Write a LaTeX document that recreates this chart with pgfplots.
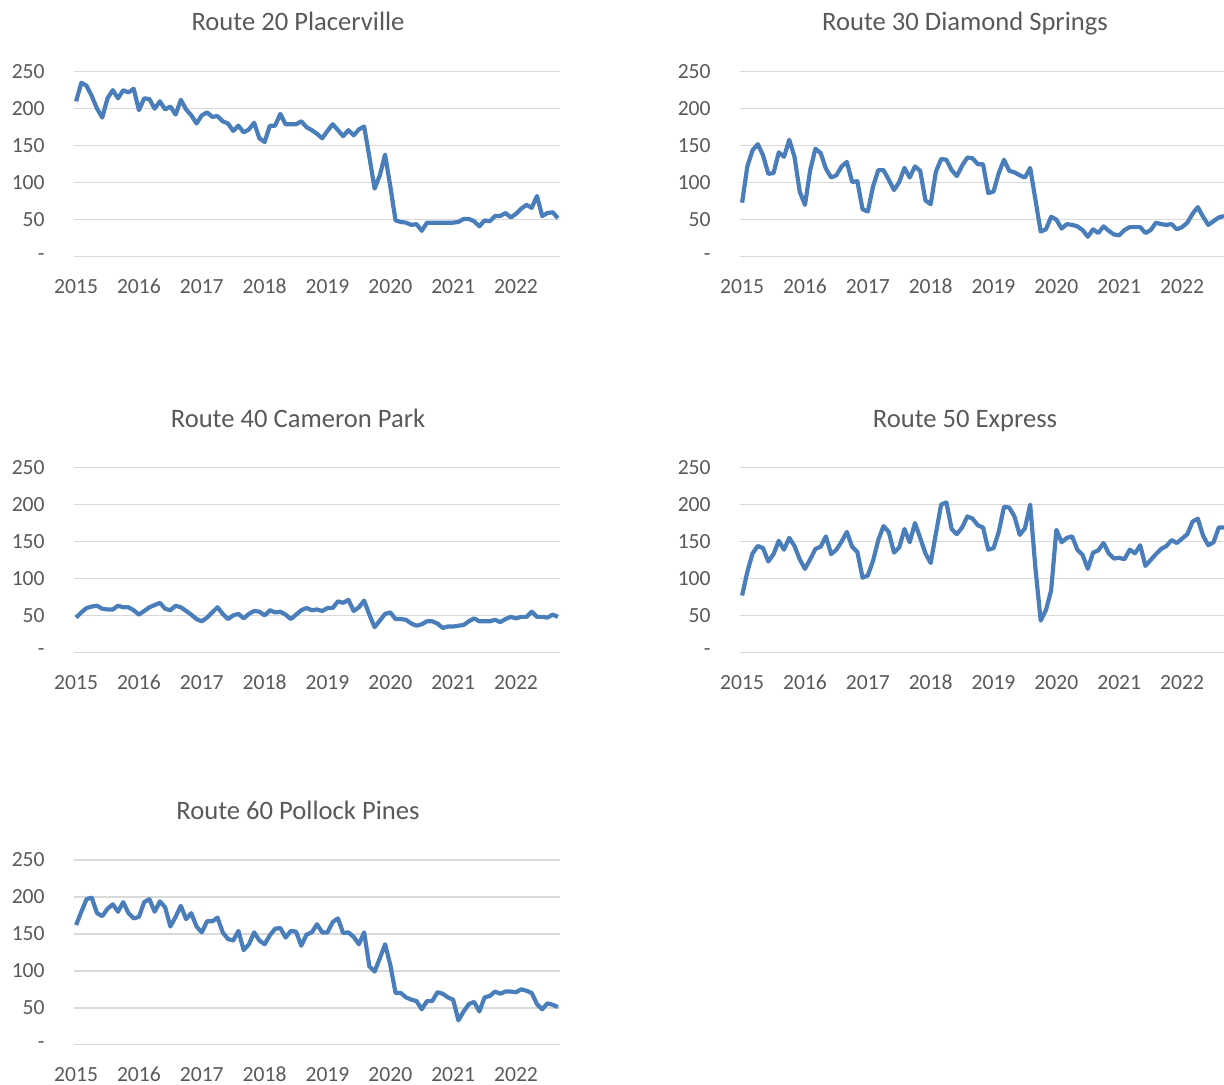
\documentclass[border=0pt]{standalone}
\usepackage{fontspec}
\setmainfont{Carlito}
\usepackage{pgfplots}
\usepackage{pgfplotstable}
\pgfplotsset{compat=1.18}
\definecolor{linec}{HTML}{4A7EBB}
\definecolor{gridc}{HTML}{D9D9D9}
\definecolor{txt}{HTML}{595959}

\pgfplotstableread{
m r20 r30 r40 r50 r60
0 210 73 47 77 162
1 235 122 54 109 180
2 231 144 60 134 197
3 217 152 62 144 199
4 200 137 63 141 178
5 188 112 59 123 174
6 214 113 58 133 184
7 225 141 58 151 190
8 214 135 63 139 180
9 225 158 61 155 193
10 222 135 61 144 178
11 227 88 57 126 171
12 198 70 51 113 173
13 214 117 56 126 193
14 213 146 61 140 197
15 200 140 64 143 180
16 210 119 67 157 194
17 199 107 59 133 186
18 203 110 57 139 160
19 192 122 63 150 173
20 212 128 61 163 188
21 199 101 56 143 170
22 191 102 51 136 178
23 180 64 45 101 160
24 191 61 42 104 152
25 195 95 47 124 167
26 189 117 54 152 167
27 190 117 61 171 172
28 183 104 52 163 152
29 180 90 45 135 143
30 170 101 50 142 141
31 177 120 52 167 154
32 168 107 46 149 128
33 172 122 52 175 136
34 181 116 56 155 152
35 160 76 55 134 141
36 155 71 50 121 136
37 177 115 57 161 148
38 177 132 54 200 157
39 193 131 55 203 158
40 179 117 51 167 145
41 179 109 45 160 154
42 179 123 51 169 153
43 183 134 57 184 134
44 175 133 60 181 149
45 171 125 57 172 152
46 166 125 58 169 163
47 160 86 56 139 152
48 170 88 60 141 152
49 179 113 60 163 166
50 171 131 69 197 171
51 163 116 67 196 151
52 171 114 71 184 152
53 164 110 56 159 146
54 172 107 61 168 136
55 176 120 70 200 152
56 135 77 51 114 106
57 92 34 34 43 99
58 110 37 43 57 117
59 138 54 52 84 136
60 95 50 54 166 108
61 49 38 45 149 70
62 47 44 45 155 70
63 46 43 44 157 64
64 43 41 39 139 61
65 44 36 36 132 59
66 35 27 38 113 48
67 46 37 42 135 59
68 46 32 42 138 59
69 46 41 39 148 71
70 46 35 33 134 69
71 46 30 35 127 64
72 46 29 35 128 61
73 47 36 36 126 33
74 51 40 37 139 45
75 51 40 42 134 55
76 48 40 46 145 58
77 41 32 42 117 45
78 49 36 42 125 64
79 48 46 42 133 66
80 55 44 44 140 72
81 55 43 41 144 69
82 59 44 45 152 72
83 53 37 48 148 72
84 58 40 46 154 71
85 65 46 48 160 75
86 70 58 48 177 73
87 66 67 55 181 70
88 82 54 48 158 55
89 55 43 48 145 48
90 59 48 47 149 56
91 60 53 51 169 54
92 52 55 48 169 51
}\routes

\pgfplotsset{panel/.style={
  scale only axis, anchor=south west,
  width=243bp, height=92.5bp,
  xmin=-0.4, xmax=92.4, ymin=0, ymax=250,
  axis line style={draw=none}, tick style={draw=none},
  ymajorgrids, grid style={gridc, line width=0.75bp},
  xtick={0,12,24,36,48,60,72,84},
  xticklabels={2015,2016,2017,2018,2019,2020,2021,2022},
  ytick={0,50,100,150,200,250},
  yticklabels={{-\hspace{6bp}},50,100,150,200,250},
  tick label style={font=\fontsize{10.8bp}{12bp}\selectfont, text=txt, inner sep=0pt},
  xticklabel style={anchor=base, yshift=-18.4bp},
  yticklabel style={anchor=east, xshift=-14.5bp},
},
 dataline/.style={linec, line width=2.1bp, line join=round, no markers}}

\newcommand{\ttl}{\fontsize{13.3bp}{16bp}\selectfont\color{txt}}

\begin{document}
\begin{tikzpicture}
\path[use as bounding box] (0,0) rectangle (612bp,-542.5bp);

\node[anchor=base] at (149bp,-15.25bp) {\ttl Route 20 Placerville};
\node[anchor=base] at (482.5bp,-15.25bp) {\ttl Route 30 Diamond Springs};
\node[anchor=base] at (149bp,-213.75bp) {\ttl Route 40 Cameron Park};
\node[anchor=base] at (482.5bp,-213.75bp) {\ttl Route 50 Express};
\node[anchor=base] at (149bp,-409.75bp) {\ttl Route 60 Pollock Pines};

\begin{axis}[panel, at={(37bp,-128.35bp)}]
\addplot[dataline] table[x=m,y=r20]{\routes};
\end{axis}
\begin{axis}[panel, at={(370bp,-128.35bp)}, width=242bp, xmax=92.0]
\addplot[dataline] table[x=m,y=r30]{\routes};
\end{axis}
\begin{axis}[panel, at={(37bp,-326.15bp)}, height=92.3bp]
\addplot[dataline] table[x=m,y=r40]{\routes};
\end{axis}
\begin{axis}[panel, at={(370bp,-326.15bp)}, height=92.3bp, width=242bp, xmax=92.0]
\addplot[dataline] table[x=m,y=r50]{\routes};
\end{axis}
\begin{axis}[panel, at={(37bp,-522.35bp)}, height=92.35bp]
\addplot[dataline] table[x=m,y=r60]{\routes};
\end{axis}
\end{tikzpicture}
\end{document}
